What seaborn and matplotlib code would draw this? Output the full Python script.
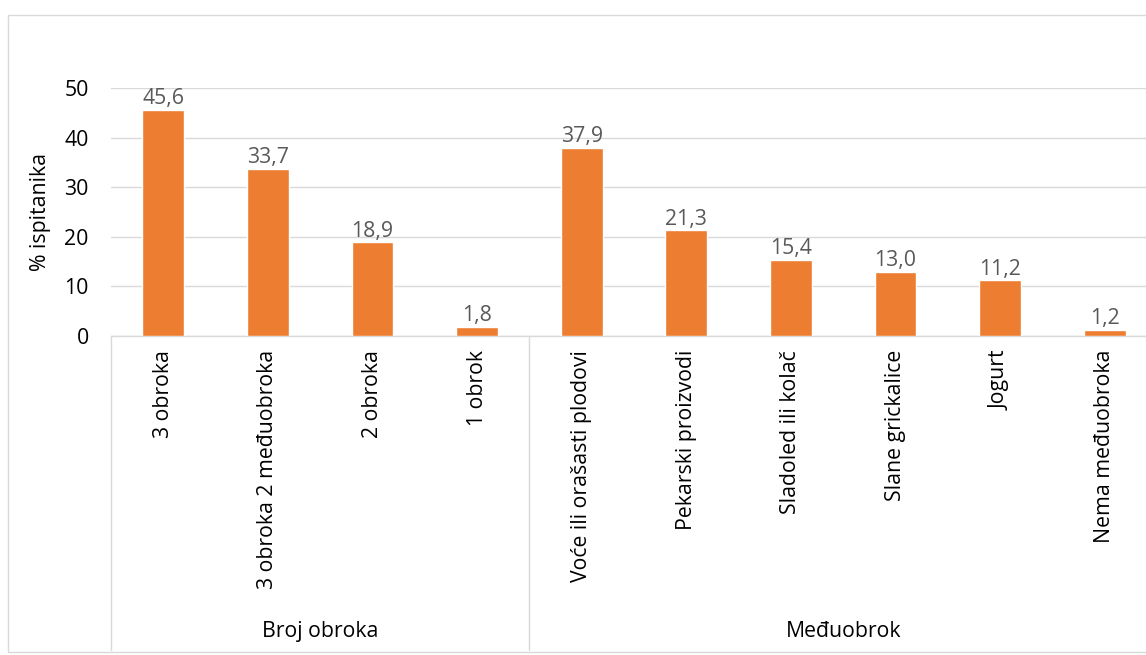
import matplotlib
matplotlib.use("Agg")
import matplotlib.pyplot as plt
import matplotlib.transforms as mtransforms
from matplotlib.patches import Rectangle
import seaborn as sns
import pandas as pd

categories = ["3 obroka", "3 obroka 2 međuobroka", "2 obroka", "1 obrok",
              "Voće ili orašasti plodovi", "Pekarski proizvodi", "Sladoled ili kolač",
              "Slane grickalice", "Jogurt", "Nema međuobroka"]
values = [45.6, 33.7, 18.9, 1.8, 37.9, 21.3, 15.4, 13.0, 11.2, 1.2]
groups = ["Broj obroka", "Međuobrok"]
group_sizes = [4, 6]
y_ticks = [0, 10, 20, 30, 40, 50]
y_label = "% ispitanika"

sns.set_theme(style="white")
plt.rcParams["font.family"] = ["Open Sans", "DejaVu Sans"]
FS = 15.3

df = pd.DataFrame({"cat": categories, "val": values})

fig = plt.figure(figsize=(11.46, 6.55), dpi=100)
W, H = 1146, 655
left, right, top, bottom = 111, 1157, 88, 336
ax = fig.add_axes([left / W, 1 - bottom / H, (right - left) / W, (bottom - top) / H])

sns.barplot(data=df, x="cat", y="val", color="#ED7D31", width=0.4, ax=ax,
            saturation=1, zorder=3)

ax.set_ylim(0, 50)
ax.set_xlim(-0.5, len(categories) - 0.5)
ax.set_yticks(y_ticks)
ax.set_yticklabels([str(t) for t in y_ticks], fontsize=FS, color="#000000")
ax.tick_params(axis="y", length=0, pad=16)
ax.tick_params(axis="x", length=0, pad=10)
ax.set_xticks(range(len(categories)))
ax.set_xticklabels(categories, rotation=90, fontsize=FS, color="#000000", va="top")
ax.grid(axis="y", color="#d9d9d9", linewidth=1, zorder=0)
for s in ["top", "right", "left"]:
    ax.spines[s].set_visible(False)
ax.spines["bottom"].set_color("#d9d9d9")
ax.spines["bottom"].set_linewidth(1)
ax.set_xlabel("")
ax.set_ylabel(y_label, fontsize=FS, color="#000000")
ax.yaxis.set_label_coords(-0.057, 0.5)

for i, v in enumerate(values):
    ax.annotate(f"{v:.1f}".replace(".", ","), (i, v), xytext=(0, 0.5),
                textcoords="offset points", ha="center", va="bottom",
                fontsize=FS, color="#595959")

trans = mtransforms.blended_transform_factory(ax.transData, ax.transAxes)
line_bottom = -(650 - bottom) / (bottom - top)
label_y = -(632 - bottom) / (bottom - top)
pos = -0.5
ax.plot([pos, pos], [0, line_bottom], color="#d9d9d9", lw=1, transform=trans, clip_on=False)
for g, n in zip(groups, group_sizes):
    center = pos + n / 2
    pos_end = pos + n
    ax.plot([pos_end, pos_end], [0, line_bottom], color="#d9d9d9", lw=1,
            transform=trans, clip_on=False)
    ax.text(center, label_y, g, transform=trans, ha="center", va="center",
            fontsize=FS, color="#000000")
    pos = pos_end

fig.patches.append(Rectangle((8 / W, 1 - 652 / H), 1.2, (652 - 15) / H,
                             transform=fig.transFigure, fill=False,
                             edgecolor="#d9d9d9", lw=1))

fig.savefig("out.png", dpi=100)
